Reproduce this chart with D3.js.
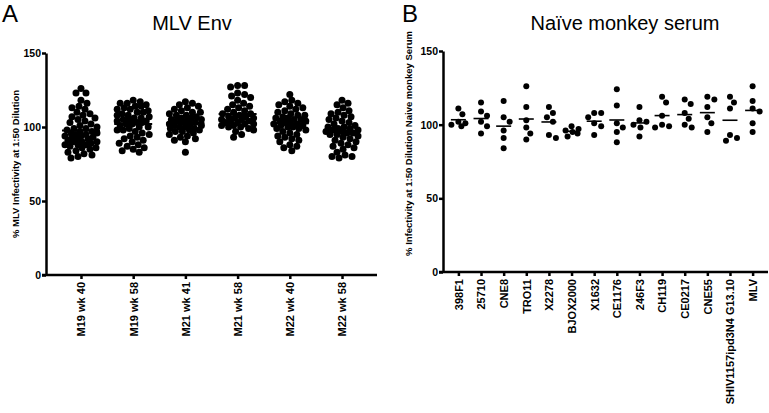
<!DOCTYPE html>
<html><head><meta charset="utf-8">
<script src="https://cdn.jsdelivr.net/npm/d3@7"></script>
<style>
body{margin:0;background:#fff;}
svg{display:block;font-family:"Liberation Sans",Arial,sans-serif;}
.axis path,.axis line{stroke:#000;stroke-width:2.5px;}
.axis text{font-weight:bold;fill:#000;}
</style></head><body>
<svg id="chart" width="769" height="413"></svg>
<script>
// ---------- Data ----------
const catsA = ["M19 wk 40","M19 wk 58","M21 wk 41","M21 wk 58","M22 wk 40","M22 wk 58"];
const m19wk40 = [126,123,123,118,116,114,113,112,110,109,108,107,106,105,104,103,102,101,100,99,99,98,97,96,96,95,94,94,93,92,92,91,90,90,89,88,88,87,86,85,84,83,82,81,80,79,90,88,86,97,95,93];
const m19wk58 = [118,117,116,115,114,113,112,111,110,109,108,107,106,105,105,104,104,103,103,102,102,101,100,100,99,98,98,97,96,95,94,93,92,91,90,89,88,87,86,85,84,83,116,114,112,110,108,106];
const m21wk41 = [117,116,115,114,113,112,111,110,110,109,108,108,107,106,106,105,105,104,104,103,103,102,102,101,101,100,100,99,99,98,98,97,97,96,95,94,93,92,91,90,83];
const m21wk58 = [128,127,128,123,122,121,120,118,116,115,114,113,112,111,110,109,109,108,107,107,106,106,105,105,104,104,103,103,102,102,101,100,99,98,97,95,93,100,101];
const m22wk40 = [122,116,115,114,113,112,111,110,109,108,108,107,106,106,105,105,104,104,103,103,102,102,101,101,100,100,99,99,98,97,96,95,94,93,92,91,90,88,87,86,84,118,117];
const m22wk58 = [118,116,115,113,111,110,109,108,107,106,105,104,103,102,101,100,100,99,99,98,98,97,97,96,96,95,95,94,93,92,91,90,89,88,87,86,85,83,81,80,80,79];
const seriesA = [m19wk40,m19wk58,m21wk41,m21wk58,m22wk40,m22wk58];

const catsB = ["398F1","25710","CNE8","TRO11","X2278","BJOX2000","X1632","CE1176","246F3","CH119","CE0217","CNE55","SHIV1157ipd3N4 G13.10","MLV"];
const seriesB = [
  [111,107,102,101,100,99],
  [115,109,106,102,99,94],
  [116,105,102,96,91,84],
  [126,112,103,98,94,90],
  [112,108,105,102,93,91],
  [99,97,96,95,94,92],
  [108,108,105,101,99,93],
  [124,113,101,98,95,88],
  [112,103,102,100,98,92],
  [119,115,106,100,99,98],
  [117,114,108,104,100,98],
  [119,117,112,105,101,95],
  [119,115,111,93,91,89],
  [126,116,111,109,101,95]
];
const yTicks = [0,50,100,150];
const titleA = "MLV Env", titleB = "Naïve monkey serum";
const yLabelA = "% MLV Infectivity at 1:50  Dilution";
const yLabelB = "% Infectivity at 1:50  Dilution Naive monkey Serum";

// ---------- Helpers ----------
const svg = d3.select("#chart");

function swarm(values, y, d, maxW){
  const placed = [];
  const order = values.map((v,i)=>({v,i})).sort((a,b)=>b.v-a.v);
  const out = new Array(values.length);
  for(const o of order){
    const py = y(o.v);
    let best = null, bestScore = -1, bestDx = 0;
    for(let k=0;k<=maxW*2;k++){
      const dx = (k%2===1?1:-1)*Math.ceil(k/2);
      const md = placed.length? d3.min(placed,p=>Math.hypot(p.x-dx,p.y-py)) : Infinity;
      if(md>=d){best=dx;break;}
      if(md>bestScore){bestScore=md;bestDx=dx;}
    }
    if(best===null) best=bestDx;
    placed.push({x:best,y:py});
    out[o.i] = {dx:best, y:py, v:o.v};
  }
  return out;
}

function panel(opts){
  const g = svg.append("g");
  const y = d3.scaleLinear().domain([0,150]).range([opts.y0,opts.y150]);
  const x = d3.scalePoint().domain(opts.cats).range([opts.xLeft,opts.xRight]).padding(opts.pad);

  const ya = g.append("g").attr("class","axis").attr("transform",`translate(${opts.xLeft},0)`)
    .call(d3.axisLeft(y).tickValues(yTicks).tickSize(4).tickSizeOuter(0).tickPadding(1));
  ya.selectAll("text").style("font-size","10.5px");
  const xa = g.append("g").attr("class","axis").attr("transform",`translate(0,${opts.y0})`)
    .call(d3.axisBottom(x).tickSize(4).tickSizeOuter(0));
  xa.select(".domain").attr("d",`M${opts.xLeft-4},0H${opts.xRight}`);
  xa.selectAll("text").style("font-size","11px")
    .attr("transform","rotate(-90)").attr("text-anchor","end")
    .attr("x",-7).attr("y",0).attr("dy","0.35em");

  opts.series.forEach((vals,i)=>{
    const cx = x(opts.cats[i]);
    const pts = swarm(vals,y,opts.d,opts.maxW);
    g.append("g").selectAll("circle").data(pts).join("circle")
      .attr("cx",p=>cx+p.dx).attr("cy",p=>p.y).attr("r",opts.r).attr("fill","#000");
    const m = d3.mean(vals);
    g.append("line").attr("x1",cx-opts.mw/2).attr("x2",cx+opts.mw/2)
      .attr("y1",y(m)).attr("y2",y(m)).attr("stroke","#000").attr("stroke-width",opts.mt);
  });

  g.append("text").attr("x",opts.ylx).attr("y",(opts.y0+opts.y150)/2+opts.ylOff)
    .attr("transform",`rotate(-90,${opts.ylx},${(opts.y0+opts.y150)/2+opts.ylOff})`)
    .attr("text-anchor","middle").attr("dy","0.35em")
    .style("font-size",opts.ylfs).style("font-weight","bold").text(opts.ylabel);
  g.append("text").attr("x",opts.tx).attr("y",30).attr("text-anchor","middle")
    .style("font-size","20px").text(opts.title);
  g.append("text").attr("x",opts.lx).attr("y",22).style("font-size","24px").text(opts.letter);
}

panel({cats:catsA, series:seriesA, xLeft:46, xRight:377, pad:0.67, y0:275, y150:53,
  r:3.5, d:6.2, maxW:16, mw:38, mt:2, ylabel:yLabelA, ylx:16, ylOff:0, ylfs:"9.5px", title:titleA, tx:192, letter:"A", lx:2});
panel({cats:catsB, series:seriesB, xLeft:443, xRight:768, pad:0.68, y0:272, y150:51,
  r:3, d:7, maxW:7, mw:15, mt:1.6, ylabel:yLabelB, ylx:409, ylOff:-18, ylfs:"9.5px", title:titleB, tx:625, letter:"B", lx:402});
</script>
</body></html>
